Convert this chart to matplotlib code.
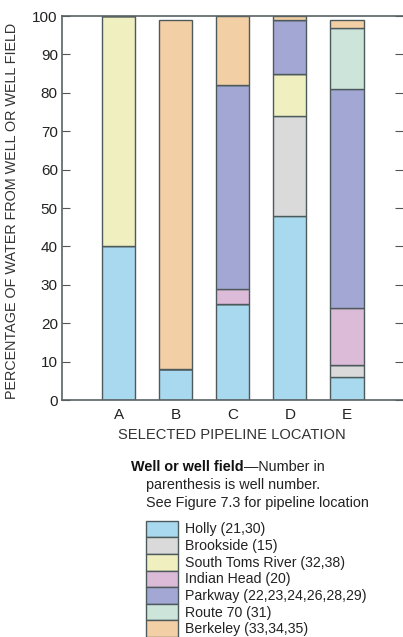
import matplotlib
matplotlib.use('Agg')
import matplotlib.pyplot as plt
from matplotlib.patches import Rectangle
import numpy as np

plt.rcParams['font.family'] = ['Liberation Sans', 'DejaVu Sans']

locations = ['A', 'B', 'C', 'D', 'E']
wells = ['Holly (21,30)', 'Brookside (15)', 'South Toms River (32,38)',
         'Indian Head (20)', 'Parkway (22,23,24,26,28,29)', 'Route 70 (31)',
         'Berkeley (33,34,35)']
colors = ['#a9d9ee', '#d9dad9', '#efefc0', '#dcbbd8', '#a3a7d3', '#cde4da', '#f3cfa5']

# percent of water by well field at each location (A..E)
holly      = [40,  8, 25, 48,  6]
brookside  = [ 0,  0,  0, 26,  3]
south_toms = [60,  0,  0, 11,  0]
indian     = [ 0,  0,  4,  0, 15]
parkway    = [ 0,  0, 53, 14, 57]
route70    = [ 0,  0,  0,  0, 16]
berkeley   = [ 0, 91, 18,  1,  2]
series = [holly, brookside, south_toms, indian, parkway, route70, berkeley]

W, H = 403, 637
fig = plt.figure(figsize=(W / 100, H / 100), dpi=100)
ax = fig.add_axes([62 / W, (H - 400) / H, 341 / W, 384 / H])

edge = '#4d5a5c'
x = np.arange(len(locations))
bottom = np.zeros(len(locations))
for vals, c in zip(series, colors):
    vals = np.array(vals, dtype=float)
    ax.bar(x, vals, bottom=bottom, width=0.58, color=c, edgecolor=edge, linewidth=1.0)
    bottom += vals

ax.set_xlim(-0.99, 4.98)
ax.set_ylim(0, 100)
ax.set_yticks(range(0, 101, 10))
ax.set_xticks(x)
ax.set_xticklabels(locations)
ax.tick_params(axis='y', direction='in', left=True, right=True, length=6,
               color='#555555', labelsize=11, labelcolor='#222222', pad=3)
ax.tick_params(axis='x', length=0, labelsize=11, labelcolor='#222222', pad=6)
for s in ['left', 'bottom', 'top']:
    ax.spines[s].set_color('#5a6264')
    ax.spines[s].set_linewidth(1.2)
ax.spines['right'].set_visible(False)

def fy(py):
    return 1 - py / H

fig.text(12 / W, fy(211), 'PERCENTAGE OF WATER FROM WELL OR WELL FIELD',
         fontsize=10.4, color='#333333', rotation=90, ha='center', va='center')
fig.text(232 / W, fy(435), 'SELECTED PIPELINE LOCATION', fontsize=10.6,
         color='#333333', ha='center', va='center')

# legend block
t1 = fig.text(131 / W, fy(471), 'Well or well field', fontsize=10.4, fontweight='bold',
              va='baseline', ha='left', color='#111111')
fig.canvas.draw()
bb = t1.get_window_extent()
fig.text(bb.x1 / W, fy(471), '\u2014Number in', fontsize=10.4, va='baseline',
         ha='left', color='#222222')
fig.text(146 / W, fy(489), 'parenthesis is well number.', fontsize=10.4,
         va='baseline', ha='left', color='#222222')
fig.text(146 / W, fy(507), 'See Figure 7.3 for pipeline location', fontsize=10.4,
         va='baseline', ha='left', color='#222222')

row_h = 16.6
top = 520.7
for i, (lab, c) in enumerate(zip(wells, colors)):
    y0 = top + i * row_h
    fig.add_artist(Rectangle((146 / W, fy(y0 + row_h)), 32 / W, row_h / H,
                             transform=fig.transFigure, facecolor=c,
                             edgecolor=edge, linewidth=1.0))
    fig.text(185 / W, fy(y0 + row_h / 2 + 0.5), lab, fontsize=10.2, va='center',
             ha='left', color='#222222')

fig.savefig('out.png', dpi=100)
